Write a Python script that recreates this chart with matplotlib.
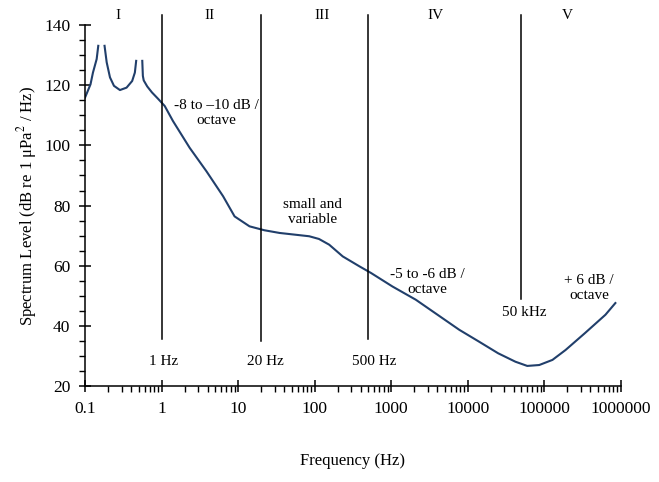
import matplotlib
matplotlib.use("Agg")
import matplotlib.pyplot as plt
from matplotlib.ticker import FixedLocator, FuncFormatter, MultipleLocator, LogLocator, NullFormatter

plt.rcParams['font.family'] = ['Liberation Serif', 'DejaVu Serif']
plt.rcParams['mathtext.fontset'] = 'stix'

# curve, in three pieces (peaks are cut off)
seg1_f = [0.1, 0.102, 0.118, 0.127, 0.142, 0.149]
seg1_db = [115.9, 116.4, 120.3, 124.2, 128.7, 133.1]

seg2_f = [0.180, 0.192, 0.212, 0.239, 0.286, 0.349, 0.413, 0.448, 0.466]
seg2_db = [133.1, 127.6, 122.6, 119.8, 118.4, 119.2, 121.4, 124.2, 128.1]

seg3_f = [0.56, 0.57, 0.585, 0.65, 0.75, 0.90, 1.10, 1.41, 2.33, 3.86, 6.37,
          9.0, 14.1, 22, 34.8, 85, 114, 155, 233, 385, 545, 1040, 2100,
          7770, 14000, 25000, 42000, 60000, 86000, 128000, 190000, 340000,
          630000, 850000]
seg3_db = [128.1, 123.1, 121.6, 119.6, 117.6, 115.5, 113.1, 108.1, 99.2, 91.4, 83.1,
           76.4, 73.1, 71.8, 70.9, 69.8, 68.9, 67.0, 63.1, 59.8, 57.6, 53.1, 48.7,
           38.7, 34.8, 30.9, 28.1, 26.7, 27.0, 28.7, 32.0, 37.6,
           43.7, 47.6]

# region boundaries
bound_f = [1, 20, 500, 50000]
bound_bottom = [35.7, 35.0, 35.7, 49.0]
bound_labels = ['1 Hz', '20 Hz', '500 Hz', '50 kHz']
bound_label_pos = [(1.05, 28.3), (23, 28.3), (600, 28.3), (55000, 44.3)]

regions = ['I', 'II', 'III', 'IV', 'V']
region_pos = [0.27, 4.27, 126, 3780, 199000]

notes = ['-8 to \u201310 dB /\noctave', 'small and\nvariable',
         '-5 to -6 dB /\noctave', '+ 6 dB /\noctave']
note_pos = [(5.25, 110.7), (94, 78), (2960, 54.7), (384000, 52.7)]

xticks = [0.1, 1, 10, 100, 1000, 10000, 100000, 1000000]
xtick_labels = ['0.1', '1', '10', '100', '1000', '10000', '100000', '1000000']

line_col = '#213f6b'

fig = plt.figure(figsize=(6.59, 4.82), dpi=100)
ax = fig.add_axes([0.129, 0.199, 0.813, 0.749])

for f, db in [(seg1_f, seg1_db), (seg2_f, seg2_db), (seg3_f, seg3_db)]:
    ax.plot(f, db, color=line_col, lw=1.5, solid_joinstyle='round')

for f, b in zip(bound_f, bound_bottom):
    ax.plot([f, f], [b, 143.5], color='black', lw=1.1, clip_on=False)

for lab, (x, y) in zip(bound_labels, bound_label_pos):
    ax.text(x, y, lab, ha='center', va='center', fontsize=11)

for lab, x in zip(regions, region_pos):
    ax.text(x, 141, lab, ha='center', va='bottom', fontsize=11)

for lab, (x, y) in zip(notes, note_pos):
    ax.text(x, y, lab, ha='center', va='center', fontsize=11, linespacing=1.2)

ax.set_xscale('log')
ax.set_xlim(0.1, 1000000)
ax.set_ylim(20, 140)
ax.xaxis.set_major_locator(FixedLocator(xticks))
ax.xaxis.set_major_formatter(FuncFormatter(lambda v, p: xtick_labels[xticks.index(v)] if v in xticks else ''))
ax.xaxis.set_minor_locator(LogLocator(base=10, subs=range(2, 10), numticks=20))
ax.xaxis.set_minor_formatter(NullFormatter())
ax.yaxis.set_major_locator(MultipleLocator(20))
ax.yaxis.set_minor_locator(MultipleLocator(5))

ax.spines['top'].set_visible(False)
ax.spines['right'].set_visible(False)
ax.spines['left'].set_linewidth(1.1)
ax.spines['bottom'].set_linewidth(1.1)
ax.tick_params(which='major', direction='inout', length=9, width=1.1, labelsize=12.5, pad=6)
ax.tick_params(which='minor', direction='out', length=4, width=1.0)

ax.set_ylabel('Spectrum Level (dB re 1 \u03bcPa$^2$ / Hz)', fontsize=12)
ax.set_xlabel('Frequency (Hz)', fontsize=12, labelpad=26)

fig.savefig('out.png', dpi=100)
